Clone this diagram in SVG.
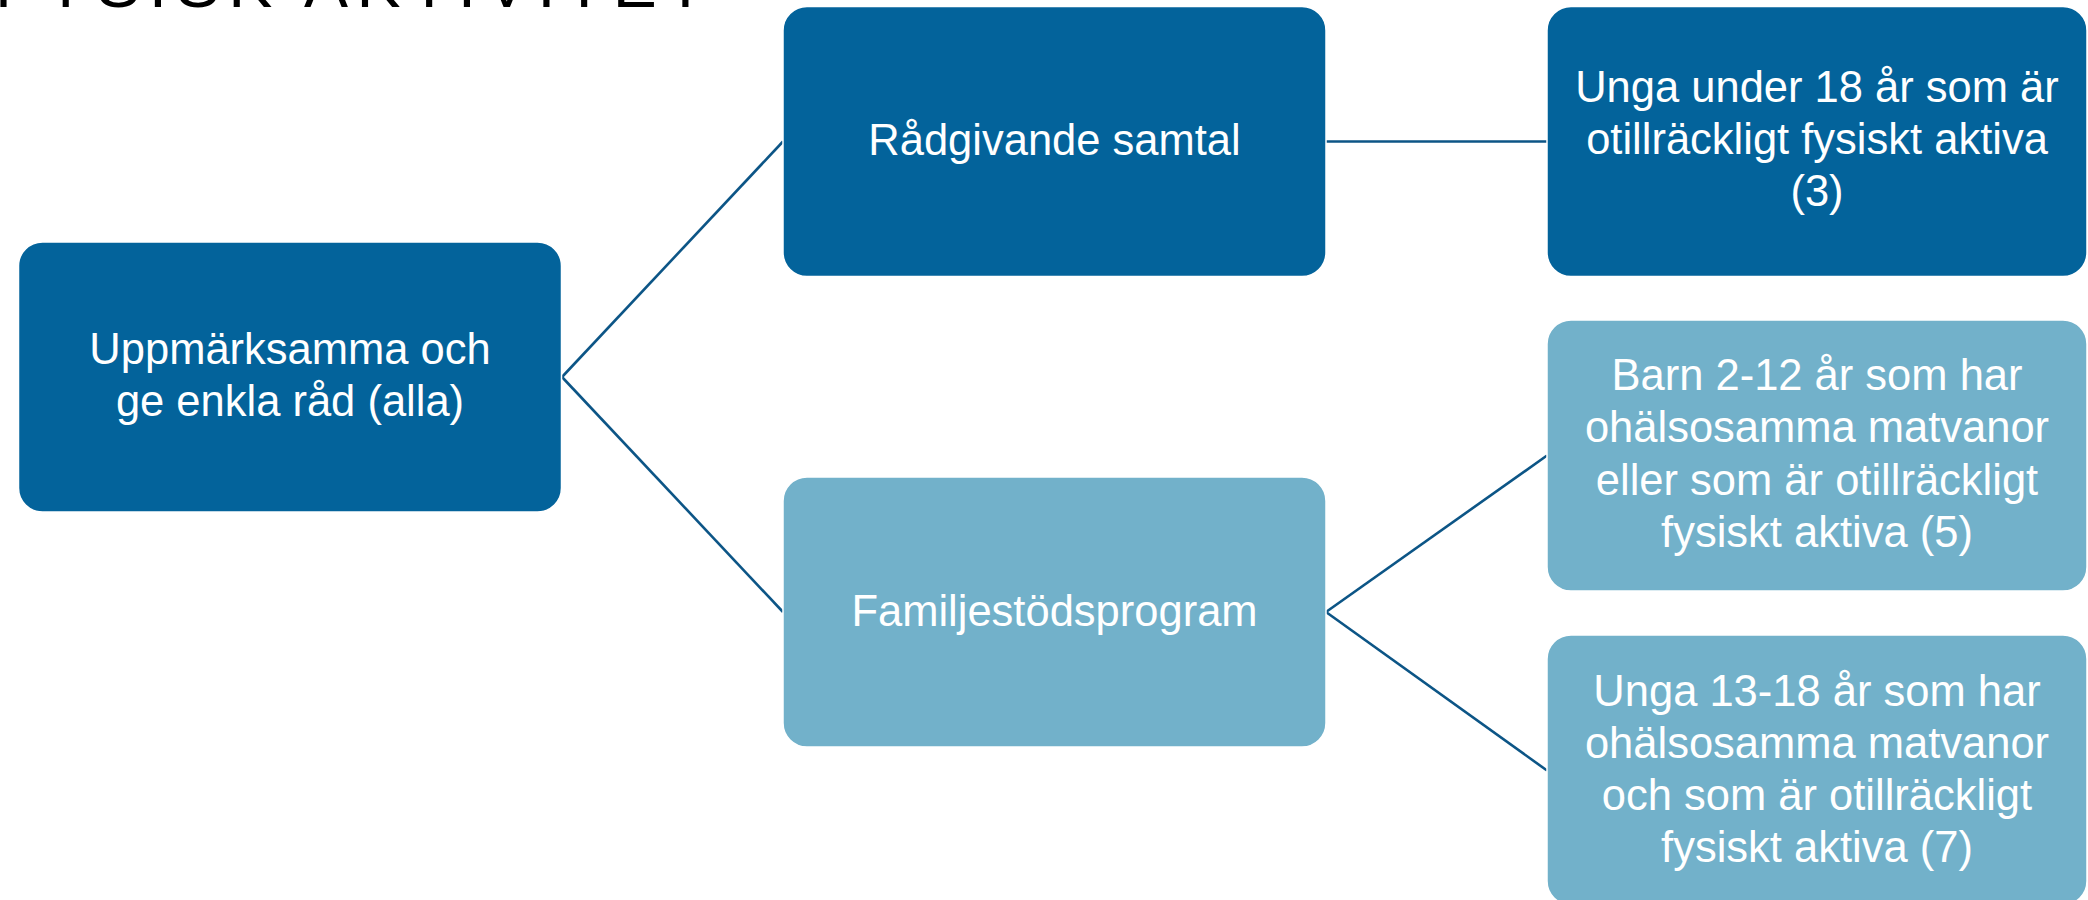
<svg xmlns="http://www.w3.org/2000/svg" width="2088" height="900" viewBox="0 0 2088 900">
<style>
.dark{fill:#03639b;stroke:#ffffff;stroke-width:1.5}
.light{fill:#72b1ca;stroke:#ffffff;stroke-width:1.5}
.lbl{font-family:"Liberation Sans",Arial,sans-serif;font-size:43.5px;fill:#ffffff;text-anchor:middle}
.title{font-family:"Liberation Sans",Arial,sans-serif;font-size:66px;fill:#000000;letter-spacing:8.5px}
.conn{stroke:#0c5586;stroke-width:2.6;fill:none}
</style>
<rect width="2088" height="900" fill="#ffffff"/>
<text class="title" x="-5" y="7">FYSISK AKTIVITET</text>
<g id="connectors">
<path class="conn" d="M562 377 L783 141.5"/>
<path class="conn" d="M562 377 L783 612"/>
<path class="conn" d="M1326 141.5 L1547 141.5"/>
<path class="conn" d="M1326 612 L1547 455.5"/>
<path class="conn" d="M1326 612 L1547 770.5"/>
</g>
<g id="n1">
<rect class="dark" x="18.5" y="242" width="543" height="270" rx="24"/>
<text class="lbl" x="290" y="364">Uppmärksamma och</text>
<text class="lbl" x="290" y="416">ge enkla råd (alla)</text>
</g>
<g id="n2">
<rect class="dark" x="783" y="6.5" width="543" height="270" rx="24"/>
<text class="lbl" x="1054.5" y="155">Rådgivande samtal</text>
</g>
<g id="n3">
<rect class="light" x="783" y="477" width="543" height="270" rx="24"/>
<text class="lbl" x="1054.5" y="625.5">Familjestödsprogram</text>
</g>
<g id="n4">
<rect class="dark" x="1547" y="6.5" width="540" height="270" rx="24"/>
<text class="lbl" x="1817" y="102">Unga under 18 år som är</text>
<text class="lbl" x="1817" y="154">otillräckligt fysiskt aktiva</text>
<text class="lbl" x="1817" y="206">(3)</text>
</g>
<g id="n5">
<rect class="light" x="1547" y="320" width="540" height="271" rx="24"/>
<text class="lbl" x="1817" y="390">Barn 2-12 år som har</text>
<text class="lbl" x="1817" y="442">ohälsosamma matvanor</text>
<text class="lbl" x="1817" y="494.5">eller som är otillräckligt</text>
<text class="lbl" x="1817" y="547">fysiskt aktiva (5)</text>
</g>
<g id="n6">
<rect class="light" x="1547" y="635" width="540" height="270" rx="24"/>
<text class="lbl" x="1817" y="706">Unga 13-18 år som har</text>
<text class="lbl" x="1817" y="758">ohälsosamma matvanor</text>
<text class="lbl" x="1817" y="810">och som är otillräckligt</text>
<text class="lbl" x="1817" y="862">fysiskt aktiva (7)</text>
</g>
</svg>
